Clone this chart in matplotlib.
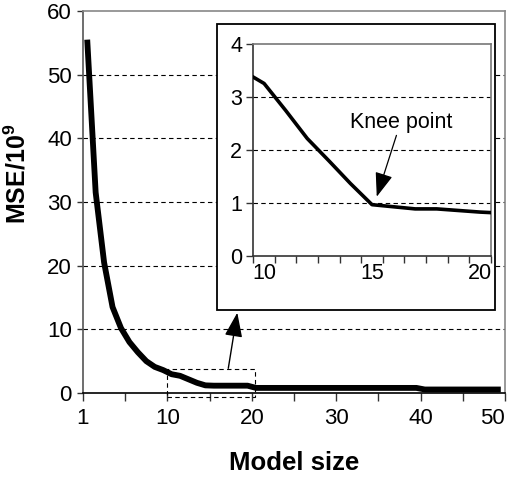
import matplotlib
matplotlib.use("Agg")
import matplotlib.pyplot as plt
from matplotlib.patches import Rectangle, FancyArrowPatch
import numpy as np

plt.rcParams['font.family'] = ['Liberation Sans', 'DejaVu Sans']
plt.rcParams['mathtext.fontset'] = 'custom'
plt.rcParams['mathtext.rm'] = 'Liberation Sans'
plt.rcParams['mathtext.bf'] = 'Liberation Sans:bold'

# ---- data ----
model_size = list(range(1, 51))
mse = [55.5, 31.5, 20.5, 13.5, 10.2, 8.0, 6.4, 5.0, 4.1, 3.6,
       2.95, 2.7, 2.15, 1.6, 1.2, 1.15, 1.15, 1.15, 1.15, 1.15] + \
      [0.8] * 20 + [0.55] * 10
main_tick_labels = ['1', '', '10', '', '20', '', '30', '', '40', '', '50']

inset_size = [9, 10, 11, 12, 13, 14, 15, 16, 17, 18, 19, 20, 21]
inset_mse = [3.5, 3.26, 2.75, 2.22, 1.8, 1.37, 0.97, 0.93, 0.89, 0.89, 0.86, 0.83, 0.81]
inset_tick_labels = ['10', '15', '20']
inset_tick_vals = [10, 15, 20]
zoom_box = (10.42, -0.68, 20.88, 3.77)  # x0, y0, x1, y1 of dashed region

W, H = 511, 480
fig = plt.figure(figsize=(W / 100, H / 100), dpi=100)

def fr(px0, py0, px1, py1):
    return [px0 / W, 1 - py1 / H, (px1 - px0) / W, (py1 - py0) / H]

ax = fig.add_axes(fr(83, 11, 505, 393))
ax.plot(model_size, mse, color='black', lw=4.2, solid_joinstyle='round',
        solid_capstyle='butt', zorder=3)
ax.set_xlim(0.5, 50.5)
ax.set_ylim(0, 60)
ax.set_xticks(np.arange(0.5, 51, 5))
ax.set_xticklabels(main_tick_labels)
ax.get_xticklabels()[-1].set_horizontalalignment('right')
ax.set_yticks(range(0, 61, 10))
for y in range(10, 60, 10):
    ax.axhline(y, color='black', lw=0.8, ls=(0, (4, 3)), zorder=1)
ax.tick_params(axis='both', labelsize=16, direction='out', color='#333333')
ax.tick_params(axis='x', length=5.5, width=1, pad=5)
ax.tick_params(axis='y', length=4, width=1, pad=4)
ax.spines['left'].set_color('#555555')
ax.spines['bottom'].set_color('black')
ax.spines['top'].set_color('#888888')
ax.spines['right'].set_color('#888888')
for s in ax.spines.values():
    s.set_linewidth(1.2)
ax.set_xlabel('Model size', fontsize=18.5, fontweight='bold', labelpad=16)
ax.set_ylabel(r'MSE/10$^{\mathbf{9}}$', fontsize=18, fontweight='bold')
ax.yaxis.set_label_coords((31 - 83) / 422, (393 - 174) / 382)

# dashed zoom rectangle
x0, y0, x1, y1 = zoom_box
ax.add_patch(Rectangle((x0, y0), x1 - x0, y1 - y0, fill=False, ec='black',
                       lw=0.8, ls=(0, (4, 3)), clip_on=False, zorder=4))

# arrow from zoom box to inset
fig.add_artist(FancyArrowPatch(
    (228.3 / W, 1 - 368.3 / H), (237.3 / W, 1 - 312.7 / H),
    transform=fig.transFigure, arrowstyle='-|>,head_length=1.5,head_width=0.55',
    mutation_scale=10, lw=1.0, color='black', shrinkA=0, shrinkB=0))

# inset frame
fig.add_artist(Rectangle((216.5 / W, 1 - 310 / H), (495 - 216.5) / W, (310 - 24) / H,
                         transform=fig.transFigure, fc='white', ec='black', lw=1.3,
                         zorder=5))

axi = fig.add_axes(fr(253.3, 44.3, 490.7, 256), zorder=6)
axi.patch.set_alpha(0)
axi.plot(inset_size, inset_mse, color='black', lw=2.6, solid_joinstyle='round', zorder=3)
axi.set_xlim(9.5, 20.5)
axi.set_ylim(0, 4)
axi.set_xticks(np.arange(9.5, 20.6, 1))
axi.set_xticklabels([])
axi.set_xticks(inset_tick_vals, minor=True)
axi.set_xticklabels(inset_tick_labels, minor=True)
axi.set_yticks(range(0, 5))
for y in (1, 2, 3):
    axi.axhline(y, color='black', lw=0.8, ls=(0, (4, 3)), zorder=1)
axi.tick_params(axis='both', which='both', labelsize=15.5, direction='out', color='#333333')
axi.tick_params(axis='x', which='major', length=5, width=1)
axi.tick_params(axis='x', which='minor', length=0, pad=5)
axi.tick_params(axis='y', length=5, width=1, pad=3)
axi.spines['left'].set_color('#333333')
axi.spines['bottom'].set_color('#333333')
axi.spines['top'].set_color('#777777')
axi.spines['right'].set_color('#777777')
for s in axi.spines.values():
    s.set_linewidth(1.2)

axi.annotate('Knee point', xy=(15.22, 1.12), xytext=(16.33, 2.53),
             ha='center', va='center', fontsize=15.5,
             arrowprops=dict(arrowstyle='-|>,head_length=1.5,head_width=0.55',
                             mutation_scale=10, lw=0.9, color='black',
                             shrinkA=0, shrinkB=0))

fig.savefig('out.png', dpi=100)
